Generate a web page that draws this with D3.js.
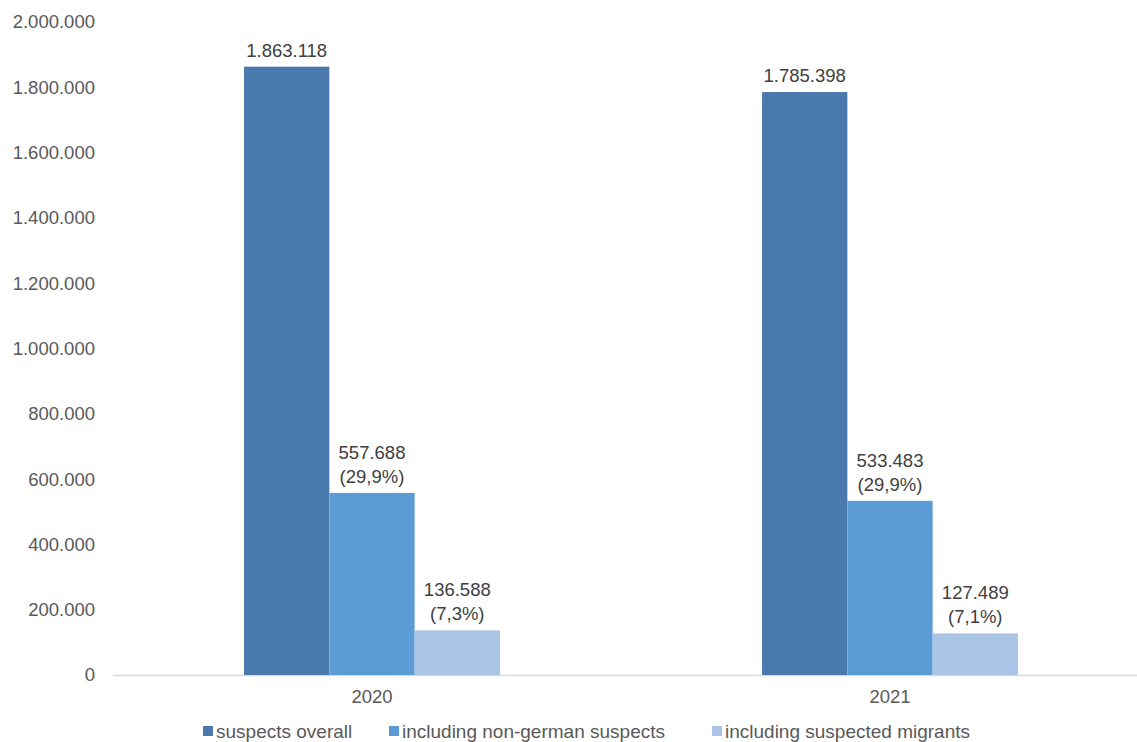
<!DOCTYPE html>
<html>
<head>
<meta charset="utf-8">
<script src="https://cdn.jsdelivr.net/npm/d3@7"></script>
<style>
  html, body { margin: 0; padding: 0; background: #fff; }
  svg { display: block; font-family: "Liberation Sans", Arial, sans-serif; }
</style>
</head>
<body>
<svg id="chart" width="1137" height="742"></svg>
<script>
// Suspects by year
const years = ["2020", "2021"];
const seriesNames = ["suspects overall", "including non-german suspects", "including suspected migrants"];
const suspectsOverall = [1863118, 1785398];
const nonGermanSuspects = [557688, 533483];
const suspectedMigrants = [136588, 127489];
const nonGermanShare = ["29,9%", "29,9%"];
const migrantShare = ["7,3%", "7,1%"];
const yTicks = [0, 200000, 400000, 600000, 800000, 1000000, 1200000, 1400000, 1600000, 1800000, 2000000];
const colors = ["#4a7aad", "#5b9bd6", "#a9c4e4"];

const fmt = d3.formatLocale({ decimal: ",", thousands: ".", grouping: [3], currency: ["", "€"] }).format(",d");

const svg = d3.select("#chart");
const plot = { left: 113, right: 1149, top: 22, bottom: 675 };

const x0 = d3.scaleBand().domain(years).range([plot.left, plot.right]).paddingInner(0).paddingOuter(0);
// the three bars of a year fill the middle half of its band
const x1 = d3.scaleBand().domain(d3.range(3))
  .range([x0.bandwidth() * 0.253, x0.bandwidth() * 0.747]).paddingInner(0).paddingOuter(0);
const y = d3.scaleLinear().domain([0, 2000000]).range([plot.bottom, plot.top]);

// y axis labels
const yAxis = d3.axisLeft(y).tickValues(yTicks).tickFormat(fmt).tickSize(0).tickPadding(0);
const yg = svg.append("g").attr("transform", "translate(95,0)").call(yAxis);
yg.select(".domain").remove();
yg.selectAll("text").attr("fill", "#595959").style("font-size", "18.5px").attr("font-family", null);

// baseline
svg.append("line")
  .attr("x1", 113).attr("x2", 1137)
  .attr("y1", y(0) + 0.5).attr("y2", y(0) + 0.5)
  .attr("stroke", "#d9d9d9").attr("stroke-width", 1.5);

const rows = years.map((yr, i) => ({
  year: yr,
  values: [
    { s: 0, v: suspectsOverall[i], label: [fmt(suspectsOverall[i])] },
    { s: 1, v: nonGermanSuspects[i], label: [fmt(nonGermanSuspects[i]), "(" + nonGermanShare[i] + ")"] },
    { s: 2, v: suspectedMigrants[i], label: [fmt(suspectedMigrants[i]), "(" + migrantShare[i] + ")"] }
  ]
}));

const groups = svg.append("g").selectAll("g").data(rows).join("g")
  .attr("transform", d => `translate(${x0(d.year)},0)`);

groups.selectAll("rect").data(d => d.values).join("rect")
  .attr("x", d => x1(d.s))
  .attr("width", x1.bandwidth())
  .attr("y", d => y(d.v))
  .attr("height", d => y(0) - y(d.v))
  .attr("fill", d => colors[d.s]);

groups.selectAll("text.lbl").data(d => d.values).join("text")
  .attr("class", "lbl")
  .attr("x", d => x1(d.s) + x1.bandwidth() / 2)
  .attr("text-anchor", "middle")
  .attr("fill", "#404040")
  .style("font-size", "18.5px")
  .each(function (d) {
    const t = d3.select(this);
    const n = d.label.length;
    d.label.forEach((line, k) => {
      t.append("tspan")
        .attr("x", x1(d.s) + x1.bandwidth() / 2)
        .attr("y", y(d.v) - 10 - (n - 1 - k) * 24)
        .text(line);
    });
  });

// category axis labels
const xAxis = d3.axisBottom(x0).tickSize(0).tickPadding(0);
const xg = svg.append("g").attr("transform", `translate(0,${y(0) + 15})`).call(xAxis);
xg.select(".domain").remove();
xg.selectAll("text").attr("fill", "#595959").style("font-size", "18.5px").attr("font-family", null);

// legend
const legendX = [203, 389, 712];
const legend = svg.append("g").selectAll("g").data(seriesNames).join("g")
  .attr("transform", (d, i) => `translate(${legendX[i]},731)`);
legend.append("rect").attr("x", 0).attr("y", -5).attr("width", 10).attr("height", 10)
  .attr("fill", (d, i) => colors[i]);
legend.append("text").attr("x", 13).attr("y", 7)
  .attr("fill", "#595959").style("font-size", "19px").text(d => d);
</script>
</body>
</html>
